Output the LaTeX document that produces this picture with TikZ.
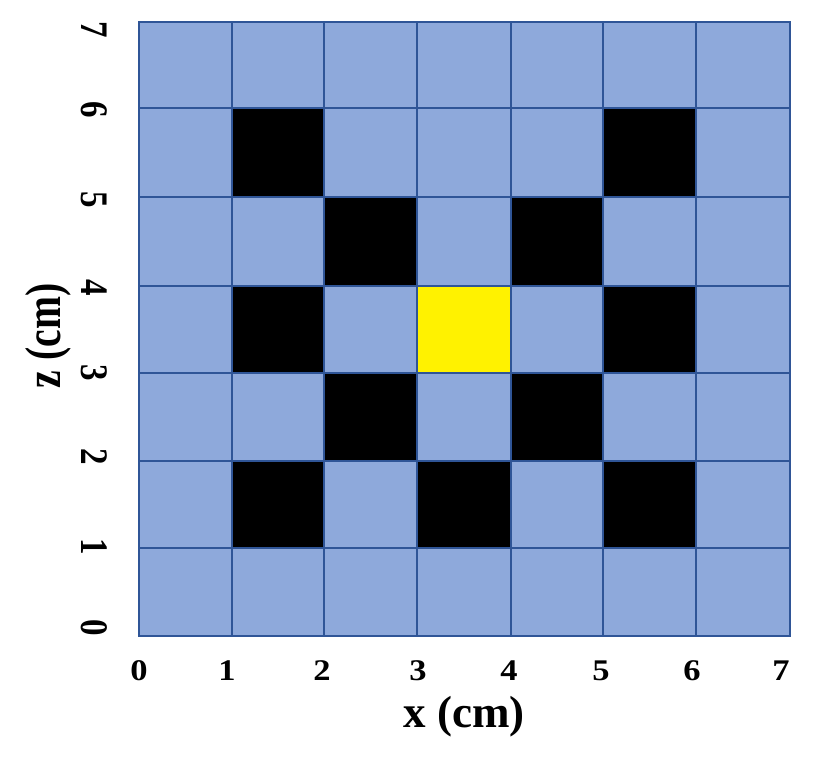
\documentclass[tikz,border=0pt]{standalone}
\usepackage{fontspec}
\setmainfont{Liberation Serif}
\definecolor{cellblue}{HTML}{8EA9DB}
\definecolor{edgeblue}{HTML}{2F5597}
\begin{document}
\begin{tikzpicture}[x=1pt,y=-1pt,
  tick/.style={font=\bfseries\fontsize{30}{30}\selectfont,inner sep=0pt},
  axlabel/.style={font=\bfseries\fontsize{45}{45}\selectfont,inner sep=0pt}]
\useasboundingbox (0,0) rectangle (831,771);
\def\xs{{139,232,324,417,511,603,696,790}}
\def\ys{{636,548,461,373,286,197,108,22}}
% base fill
\fill[cellblue] (139,22) rectangle (790,636);
% black and yellow cells
\foreach \i/\j/\c in {1/5/black,5/5/black,2/4/black,4/4/black,1/3/black,5/3/black,3/3/yellow,2/2/black,4/2/black,1/1/black,3/1/black,5/1/black}{
  \pgfmathsetmacro\xa{\xs[\i]}\pgfmathsetmacro\xb{\xs[\i+1]}
  \pgfmathsetmacro\ya{\ys[\j]}\pgfmathsetmacro\yb{\ys[\j+1]}
  \fill[\c] (\xa,\ya) rectangle (\xb,\yb);
}
% grid lines
\foreach \i in {1,...,6}{
  \pgfmathsetmacro\xa{\xs[\i]}
  \draw[edgeblue,line width=2.2pt] (\xa,22) -- (\xa,636);
}
\foreach \j in {1,...,6}{
  \pgfmathsetmacro\ya{\ys[\j]}
  \draw[edgeblue,line width=2.2pt] (139,\ya) -- (790,\ya);
}
\draw[edgeblue,line width=2.6pt] (139,22) rectangle (790,636);
% x ticks
\foreach \v/\px in {0/139,1/227,2/322,3/418,4/509,5/601,6/692,7/781}{
  \node[tick] (xt\v) at (\px,670.5) {\scalebox{1.15}[1]{\v}};
}
% z ticks
\foreach \v/\py in {0/628,1/547,2/457,3/373,4/288,5/200,6/110,7/30}{
  \node[tick,rotate=-90] (zt\v) at (94,\py) {\scalebox{1.1}[1.3]{\v}};
}
\node[axlabel] (xlab) at (464,717) {x (cm)};
\node[axlabel,rotate=90] (zlab) at (48.5,336) {\scalebox{0.88}[1.12]{z (cm)}};
\end{tikzpicture}
\end{document}
